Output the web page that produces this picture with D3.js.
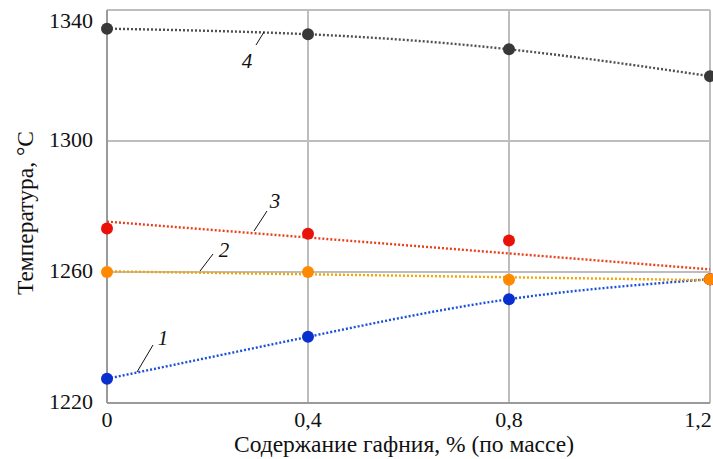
<!DOCTYPE html>
<html>
<head>
<meta charset="utf-8">
<script src="https://cdn.jsdelivr.net/npm/d3@7/dist/d3.min.js"></script>
<style>
  body { margin: 0; background: #fff; }
</style>
</head>
<body>
<svg id="chart" width="713" height="459"></svg>
<script>
// содержание гафния, % (по массе)
const hafnium = [0, 0.4, 0.8, 1.2];
const xTicks = [0, 0.4, 0.8, 1.2];
const yTicks = [1220, 1260, 1300, 1340];

// температуры по кривым 1..4
const curve1 = [1227.4, 1240.2, 1251.7, 1257.8];
const curve2 = [1260.0, 1260.0, 1257.6, 1257.8];
const curve3 = [1273.3, 1271.7, 1269.6, 1257.8];
const curve4 = [1334.3, 1332.6, 1328.0, 1319.8];

const pointColors = ['#0a2fd0', '#ff8a00', '#ea1208', '#383838'];
const lineColors = ['#1a4fd8', '#f5a400', '#e8401c', '#505050'];
const serif = '"Liberation Serif", "DejaVu Serif", "Times New Roman", serif';

const svg = d3.select('#chart');
const margin = { top: 10, right: 3, bottom: 56, left: 107 };
const width = +svg.attr('width');
const height = +svg.attr('height');

const x = d3.scaleLinear().domain([0, 1.2]).range([margin.left, width - margin.right]);
const y = d3.scaleLinear().domain([1220, 1340]).range([height - margin.bottom, margin.top]);

// сетка
const grid = svg.append('g');
grid.selectAll('line.v').data(xTicks.slice(1)).join('line')
  .attr('x1', d => x(d)).attr('x2', d => x(d))
  .attr('y1', y(1220)).attr('y2', y(1340))
  .attr('stroke', '#bdbdbd').attr('stroke-width', 2);
grid.selectAll('line.h').data(yTicks.slice(1)).join('line')
  .attr('x1', x(0)).attr('x2', x(1.2))
  .attr('y1', d => y(d)).attr('y2', d => y(d))
  .attr('stroke', '#bdbdbd').attr('stroke-width', 2);

// оси
svg.append('line')
  .attr('x1', x(0)).attr('x2', x(0)).attr('y1', y(1220)).attr('y2', y(1340))
  .attr('stroke', '#9a9a9a').attr('stroke-width', 2);
svg.append('line')
  .attr('x1', x(0)).attr('x2', x(1.2)).attr('y1', y(1220)).attr('y2', y(1220))
  .attr('stroke', '#9a9a9a').attr('stroke-width', 2);

// подписи делений
svg.append('g').selectAll('text').data(yTicks).join('text')
  .attr('x', x(0) - 14)
  .attr('y', d => d === 1340 ? y(d) + 10 : y(d) - 2)
  .attr('dy', '0.35em')
  .attr('text-anchor', 'end')
  .attr('font-family', serif)
  .attr('font-size', 22)
  .attr('fill', '#111')
  .text(d => d);

const fmt = d => d === 0 ? '0' : d3.format('.1f')(d).replace('.', ',');
svg.append('g').selectAll('text').data(xTicks).join('text')
  .attr('x', d => d === 1.2 ? x(d) - 12 : x(d))
  .attr('y', 427)
  .attr('text-anchor', 'middle')
  .attr('font-family', serif)
  .attr('font-size', 22)
  .attr('fill', '#111')
  .text(fmt);

// подписи осей
svg.append('text')
  .attr('x', 404).attr('y', 452)
  .attr('text-anchor', 'middle')
  .attr('font-family', serif)
  .attr('font-size', 23.5)
  .attr('fill', '#111')
  .text('Содержание гафния, % (по массе)');
svg.append('text')
  .attr('transform', 'translate(33,213) rotate(-90)')
  .attr('text-anchor', 'middle')
  .attr('font-family', serif)
  .attr('font-size', 23.5)
  .attr('fill', '#111')
  .text('Температура, °C');

// линии тренда: 1 и 4 — сглаженные, 2 и 3 — линейная регрессия
const allSeries = [curve1, curve2, curve3, curve4];
const linReg = vals => {
  const mx = d3.mean(hafnium), my = d3.mean(vals);
  const sxy = d3.sum(hafnium, (h, i) => (h - mx) * (vals[i] - my));
  const sxx = d3.sum(hafnium, h => (h - mx) * (h - mx));
  const k = sxy / sxx;
  return [[0, my - k * mx], [1.2, my + k * (1.2 - mx)]];
};
const smooth = d3.line().x(d => x(d[0])).y(d => y(d[1])).curve(d3.curveNatural);
const straight = d3.line().x(d => x(d[0])).y(d => y(d[1]));

const trends = allSeries.map((vals, i) => {
  if (i === 1 || i === 2) return straight(linReg(vals));
  return smooth(hafnium.map((h, j) => [h, vals[j]]));
});

svg.append('g').selectAll('path').data(trends).join('path')
  .attr('d', d => d)
  .attr('fill', 'none')
  .attr('stroke', (d, i) => lineColors[i])
  .attr('stroke-width', 2.4)
  .attr('stroke-dasharray', '2,2');

// точки (красная серия рисуется раньше, оранжевая поверх)
const order = [0, 2, 1, 3];
order.forEach(i => {
  svg.append('g').selectAll('circle').data(allSeries[i]).join('circle')
    .attr('cx', (d, j) => x(hafnium[j]))
    .attr('cy', d => y(d))
    .attr('r', 6)
    .attr('fill', pointColors[i]);
});

// номера кривых с выносками
const labelPos = [
  { t: '1', tx: 163, ty: 345, x1: 137, y1: 372, x2: 153, y2: 345 },
  { t: '2', tx: 224, ty: 257, x1: 200, y1: 271, x2: 213, y2: 254 },
  { t: '3', tx: 275, ty: 208, x1: 254, y1: 231, x2: 267, y2: 211 },
  { t: '4', tx: 247, ty: 68, x1: 256, y1: 45, x2: 264, y2: 32 }
];
const lab = svg.append('g').selectAll('g').data(labelPos).join('g');
lab.append('line')
  .attr('x1', d => d.x1).attr('y1', d => d.y1)
  .attr('x2', d => d.x2).attr('y2', d => d.y2)
  .attr('stroke', '#111').attr('stroke-width', 1);
lab.append('text')
  .attr('x', d => d.tx).attr('y', d => d.ty)
  .attr('text-anchor', 'middle')
  .attr('font-family', serif)
  .attr('font-size', 21)
  .attr('font-style', 'italic')
  .attr('fill', '#111')
  .text(d => d.t);
</script>
</body>
</html>
